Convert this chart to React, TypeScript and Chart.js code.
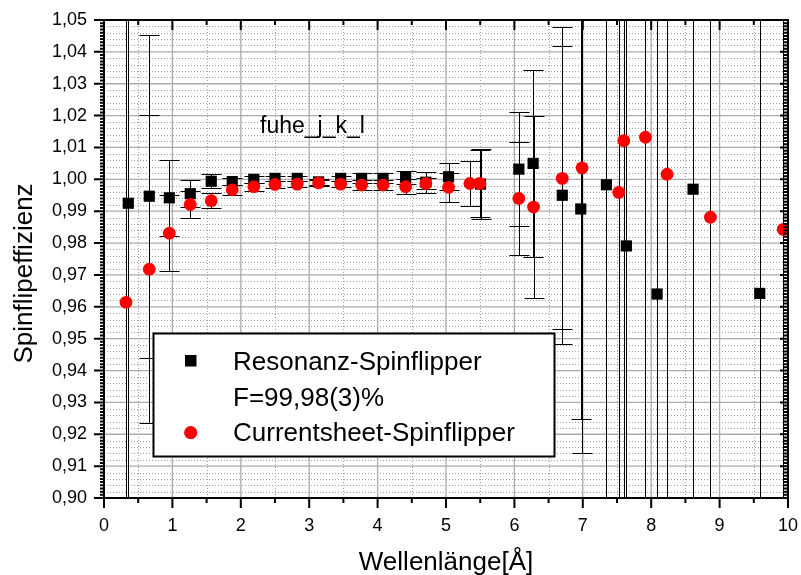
import React, { useEffect, useRef } from "react";
import { Chart, registerables } from "chart.js";

Chart.register(...registerables);

// ---------- data ----------
// Resonanz-Spinflipper (black squares)
const resX = [0.355, 0.662, 0.955, 1.261, 1.568, 1.875, 2.19, 2.5, 2.825, 3.137, 3.46, 3.766, 4.08, 4.41, 4.705, 5.037, 5.505, 6.065, 6.274, 6.7, 6.97, 7.345, 7.637, 8.086, 8.612, 9.587];
const resY = [0.9925, 0.9947, 0.9942, 0.9955, 0.9994, 0.9993, 1.0, 1.0003, 1.0003, 0.9992, 1.0003, 1.0003, 1.0003, 1.0006, 0.9991, 1.0008, 0.9985, 1.0032, 1.005, 0.995, 0.9907, 0.9983, 0.9791, 0.964, 0.9969, 0.9642];
const resErr = [0.2, 0.0507, 0.0119, 0.0043, 0.0022, 0.001, 0.0011, 0.0009, 0.0009, 0.0009, 0.0009, 0.0016, 0.0016, 0.0021, 0.0033, 0.0042, 0.011, 0.0179, 0.0293, 0.0468, 0.066, 0.2, 0.2, 0.2, 0.2, 0.2];

// Currentsheet-Spinflipper (red circles)
const csX = [0.322, 0.662, 0.955, 1.261, 1.568, 1.875, 2.19, 2.5, 2.825, 3.137, 3.46, 3.766, 4.08, 4.41, 4.705, 5.037, 5.35, 5.495, 6.065, 6.28, 6.7, 6.99, 7.526, 7.6, 7.916, 8.232, 8.866, 9.93];
const csY = [0.9614, 0.9718, 0.9831, 0.9921, 0.9933, 0.9967, 0.9977, 0.9984, 0.9985, 0.9989, 0.9985, 0.9982, 0.9982, 0.9977, 0.9987, 0.9975, 0.9987, 0.9987, 0.994, 0.9913, 1.0003, 1.0036, 0.9959, 1.0121, 1.0132, 1.0016, 0.9881, 0.9843];
const csErr = [0.2, 0.0483, 0.0119, 0.0043, 0.0024, 0.0015, 0.0013, 0.001, 0.001, 0.001, 0.001, 0.0016, 0.0016, 0.0023, 0.0018, 0.0046, 0.0071, 0.0105, 0.0178, 0.0286, 0.0474, 0.0896, 0.2, 0.2, 0.2, 0.2, 0.2, 0.2];

// axes
const xMin = 0;
const xMax = 10;
const xStep = 1;
const yMin = 0.9;
const yMax = 1.05;
const yStep = 0.01;

// texts
const xTitle = "Wellenlänge[Å]";
const yTitle = "Spinflipeffizienz";
const annotation = "fuhe_j_k_l";
const legendLines = ["Resonanz-Spinflipper", "F=99,98(3)%", "Currentsheet-Spinflipper"];

const FONT = '"Liberation Sans", Arial, Helvetica, sans-serif';

const errorBarsPlugin = {
  id: "errorBarsAndGrid",
  beforeDatasetsDraw(chart: any) {
    const { ctx, chartArea, scales } = chart;
    const { left, right, top, bottom } = chartArea;
    const xs = scales.x;
    const ys = scales.y;
    ctx.save();
    ctx.beginPath();
    ctx.rect(left, top, right - left, bottom - top);
    ctx.clip();

    // minor grid (dotted)
    ctx.strokeStyle = "#a0a0a0";
    ctx.lineWidth = 1;
    ctx.setLineDash([1, 2]);
    const nyMinor = Math.round((yMax - yMin) / 0.002);
    for (let k = 1; k < nyMinor; k++) {
      if (k % 5 === 0) continue;
      const py = Math.round(ys.getPixelForValue(yMin + k * 0.002)) + 0.5;
      ctx.beginPath();
      ctx.moveTo(left, py);
      ctx.lineTo(right, py);
      ctx.stroke();
    }
    const nxMinor = Math.round((xMax - xMin) / 0.5);
    for (let k = 1; k < nxMinor; k++) {
      if (k % 2 === 0) continue;
      const px = Math.round(xs.getPixelForValue(xMin + k * 0.5)) + 0.5;
      ctx.beginPath();
      ctx.moveTo(px, top);
      ctx.lineTo(px, bottom);
      ctx.stroke();
    }
    // major grid (solid)
    ctx.setLineDash([]);
    ctx.strokeStyle = "#ababab";
    ctx.lineWidth = 1.3;
    const nyMajor = Math.round((yMax - yMin) / yStep);
    for (let k = 1; k < nyMajor; k++) {
      const py = ys.getPixelForValue(yMin + k * yStep);
      ctx.beginPath();
      ctx.moveTo(left, py);
      ctx.lineTo(right, py);
      ctx.stroke();
    }
    for (let k = 1; k < (xMax - xMin) / xStep; k++) {
      const px = xs.getPixelForValue(xMin + k * xStep);
      ctx.beginPath();
      ctx.moveTo(px, top);
      ctx.lineTo(px, bottom);
      ctx.stroke();
    }

    // error bars
    ctx.strokeStyle = "#000";
    ctx.lineWidth = 1;
    const sets = [
      { xv: resX, yv: resY, ev: resErr },
      { xv: csX, yv: csY, ev: csErr },
    ];
    for (const s of sets) {
      for (let i = 0; i < s.xv.length; i++) {
        const px = Math.round(xs.getPixelForValue(s.xv[i])) + 0.5;
        const y1 = Math.round(ys.getPixelForValue(s.yv[i] + s.ev[i])) + 0.5;
        const y2 = Math.round(ys.getPixelForValue(s.yv[i] - s.ev[i])) + 0.5;
        ctx.beginPath();
        ctx.moveTo(px, y1);
        ctx.lineTo(px, y2);
        ctx.moveTo(px - 10, y1);
        ctx.lineTo(px + 10, y1);
        ctx.moveTo(px - 10, y2);
        ctx.lineTo(px + 10, y2);
        ctx.stroke();
      }
    }
    ctx.restore();
  },
  afterDatasetsDraw(chart: any) {
    const { ctx, chartArea, scales } = chart;
    const { left, right, top, bottom } = chartArea;
    const xs = scales.x;
    const ys = scales.y;
    ctx.save();
    ctx.strokeStyle = "#000";
    ctx.setLineDash([]);

    // ticks
    ctx.lineWidth = 2;
    const nyT = Math.round((yMax - yMin) / 0.001);
    for (let k = 0; k <= nyT; k++) {
      const py = ys.getPixelForValue(yMin + k * 0.001);
      const major = k % 10 === 0;
      ctx.beginPath();
      ctx.moveTo(left - (major ? 10 : 4), py);
      ctx.lineTo(left, py);
      ctx.moveTo(right, py);
      ctx.lineTo(right - (major ? 8 : 5), py);
      ctx.stroke();
    }
    const nxT = Math.round((xMax - xMin) / 0.5);
    for (let k = 0; k <= nxT; k++) {
      const px = xs.getPixelForValue(xMin + k * 0.5);
      const major = k % 2 === 0;
      ctx.beginPath();
      ctx.moveTo(px, bottom);
      ctx.lineTo(px, bottom + (major ? 10 : 5));
      ctx.moveTo(px, top);
      ctx.lineTo(px, top + (major ? 10 : 5));
      ctx.stroke();
    }

    // frame
    ctx.lineWidth = 2;
    ctx.strokeRect(left, top, right - left, bottom - top);

    // annotation
    ctx.fillStyle = "#000";
    ctx.font = `23px ${FONT}`;
    ctx.textAlign = "left";
    ctx.textBaseline = "alphabetic";
    ctx.fillText(annotation, 260, 133);

    // legend
    const lx = 153.5, ly = 333.5, lw = 401, lh = 123;
    ctx.fillStyle = "#fff";
    ctx.fillRect(lx, ly, lw, lh);
    ctx.lineWidth = 2;
    ctx.strokeStyle = "#000";
    ctx.strokeRect(lx, ly, lw, lh);
    ctx.fillStyle = "#000";
    ctx.fillRect(185, 355, 11.5, 11.5);
    ctx.fillStyle = "#ff0000";
    ctx.beginPath();
    ctx.arc(190.7, 432.7, 6.6, 0, Math.PI * 2);
    ctx.fill();
    ctx.fillStyle = "#000";
    ctx.font = `26px ${FONT}`;
    ctx.fillText(legendLines[0], 233, 369.5);
    ctx.fillText(legendLines[1], 233, 406);
    ctx.fillText(legendLines[2], 233, 441);

    // axis titles
    ctx.textAlign = "center";
    ctx.fillText(xTitle, 446, 570);
    ctx.translate(31.5, 273.5);
    ctx.rotate(-Math.PI / 2);
    ctx.fillText(yTitle, 0, 0);
    ctx.restore();
  },
};

export default function App() {
  const canvasRef = useRef<HTMLCanvasElement | null>(null);

  useEffect(() => {
    const canvas = canvasRef.current;
    if (!canvas) return;
    const chart = new Chart(canvas, {
      type: "scatter",
      data: {
        datasets: [
          {
            label: legendLines[2],
            data: csX.map((x, i) => ({ x, y: csY[i] })),
            pointStyle: "circle",
            pointRadius: 6.4,
            pointBackgroundColor: "#ff0000",
            pointBorderWidth: 0,
            showLine: false,
          },
          {
            label: legendLines[0],
            data: resX.map((x, i) => ({ x, y: resY[i] })),
            pointStyle: "rect",
            pointRadius: 7.9,
            pointBackgroundColor: "#000000",
            pointBorderWidth: 0,
            showLine: false,
          },
        ],
      },
      options: {
        animation: false,
        responsive: false,
        devicePixelRatio: 1,
        events: [],
        layout: { padding: 0 },
        plugins: { legend: { display: false }, tooltip: { enabled: false } },
        scales: {
          x: {
            type: "linear",
            position: "bottom",
            min: xMin,
            max: xMax,
            afterFit: (s: any) => {
              s.height = 77;
              s.paddingLeft = 0;
              s.paddingRight = 13;
            },
            grid: { display: false, drawTicks: false },
            border: { display: false },
            ticks: {
              stepSize: xStep,
              autoSkip: false,
              maxRotation: 0,
              padding: 17,
              color: "#000",
              font: { family: FONT, size: 18 },
              callback: (v: any) => String(Math.round(Number(v))),
            },
          },
          y: {
            type: "linear",
            position: "left",
            min: yMin,
            max: yMax,
            afterFit: (s: any) => {
              s.width = 104;
              s.paddingTop = 20;
              s.paddingBottom = 0;
            },
            grid: { display: false, drawTicks: false },
            border: { display: false },
            ticks: {
              stepSize: yStep,
              autoSkip: false,
              padding: 17,
              color: "#000",
              font: { family: FONT, size: 18 },
              callback: (v: any) => Number(v).toFixed(2).replace(".", ","),
            },
          },
        },
      },
      plugins: [errorBarsPlugin],
    });
    return () => chart.destroy();
  }, []);

  return (
    <div style={{ position: "absolute", left: 0, top: 0, width: 801, height: 575, background: "#fff" }}>
      <canvas ref={canvasRef} width={801} height={575} style={{ display: "block" }} />
    </div>
  );
}
